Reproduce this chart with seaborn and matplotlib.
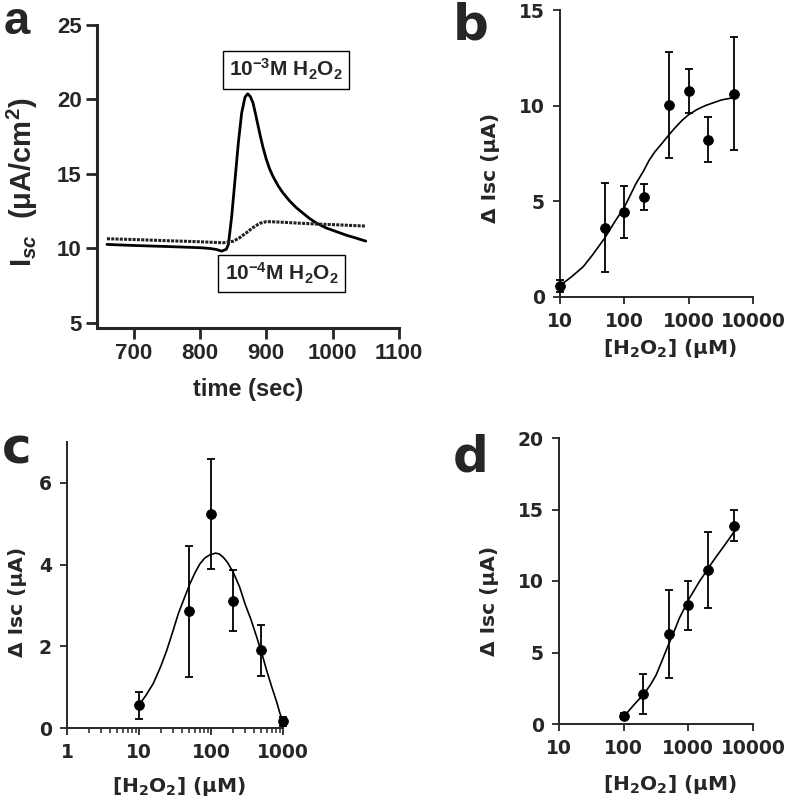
import numpy as np
import pandas as pd
import matplotlib
matplotlib.use("Agg")
import matplotlib.pyplot as plt
import seaborn as sns

# panel a: short-circuit current traces
t_1e3 = [660, 700, 750, 800, 815, 825, 833, 840, 843, 848, 853, 858, 863, 868, 872,
         876, 880, 884, 890, 895, 900, 905, 910, 918, 925, 935, 945, 955, 965, 975,
         990, 1005, 1020, 1035, 1050]
isc_1e3 = [10.27, 10.2, 10.13, 10.05, 10.0, 9.93, 9.82, 9.95, 10.27, 12.17, 14.63, 17.1,
           19.1, 20.15, 20.38, 20.2, 19.78, 19.0, 17.76, 16.8, 16.0, 15.35, 14.85, 14.2,
           13.74, 13.2, 12.75, 12.38, 12.02, 11.72, 11.38, 11.14, 10.9, 10.7, 10.49]
t_1e4 = [660, 700, 750, 800, 835, 850, 860, 870, 880, 890, 900, 915, 940, 970, 1000, 1050]
isc_1e4 = [10.65, 10.6, 10.52, 10.45, 10.38, 10.48, 10.72, 11.05, 11.4, 11.68, 11.8,
           11.78, 11.72, 11.65, 11.6, 11.5]

# panel b
b_conc = [10, 50, 100, 200, 500, 1000, 2000, 5000]
b_mean = [0.57, 3.62, 4.43, 5.23, 10.03, 10.77, 8.22, 10.63]
b_err = [0.3, 2.33, 1.36, 0.7, 2.79, 1.15, 1.17, 2.94]
b_fit_x = [10, 15, 22.9, 32, 49, 70, 100, 125, 151, 200, 242, 300, 389, 500, 624, 800,
           1000, 1350, 1807, 2500, 3250, 5200]
b_fit_y = [0.6, 1.05, 1.58, 2.2, 3.06, 3.9, 4.7, 5.35, 5.92, 6.6, 7.14, 7.6, 8.05, 8.5,
           8.87, 9.25, 9.53, 9.8, 10.0, 10.17, 10.3, 10.43]

# panel c
c_conc = [10, 50, 100, 200, 500, 1000]
c_mean = [0.56, 2.86, 5.24, 3.12, 1.90, 0.16]
c_err = [0.33, 1.6, 1.34, 0.75, 0.63, 0.1]
c_fit_x = [10, 12.5, 15.8, 20, 24.3, 29, 35.2, 42, 51, 60, 70.3, 82, 96.8, 116, 130, 148,
           170, 204, 250, 297, 360, 431, 510, 593, 700, 817, 900, 1000]
c_fit_y = [0.56, 0.8, 1.09, 1.5, 1.90, 2.32, 2.80, 3.15, 3.53, 3.8, 4.02, 4.16, 4.24, 4.28,
           4.26, 4.18, 4.05, 3.81, 3.45, 3.04, 2.65, 2.23, 1.82, 1.41, 1.0, 0.64, 0.38, 0.15]

# panel d
d_conc = [100, 200, 500, 1000, 2000, 5000]
d_mean = [0.56, 2.1, 6.27, 8.3, 10.77, 13.87]
d_err = [0.2, 1.43, 3.08, 1.7, 2.69, 1.1]
d_fit_x = [100, 139, 210, 260, 318, 390, 479, 600, 725, 870, 1035, 1250, 1476, 1750, 2100,
           2700, 3360, 4200, 5100]
d_fit_y = [0.51, 1.26, 2.15, 2.75, 3.43, 4.4, 5.41, 6.45, 7.39, 8.1, 8.79, 9.4, 9.95,
           10.45, 11.0, 11.7, 12.29, 12.9, 13.45]

sns.set_style("ticks")
plt.rcParams["font.family"] = ["DejaVu Sans"]
plt.rcParams["font.weight"] = "bold"
plt.rcParams["mathtext.default"] = "bf"
plt.rcParams["mathtext.fontset"] = "custom"
plt.rcParams["mathtext.rm"] = "Liberation Sans:bold"
plt.rcParams["mathtext.bf"] = "Liberation Sans:bold"
plt.rcParams["mathtext.it"] = "Liberation Sans:bold:italic"

ARIAL = "Liberation Sans"

fig = plt.figure(figsize=(7.88, 8.0), dpi=100)

# ---------------- panel a ----------------
ax = fig.add_axes([0.1231, 0.59, 0.3832, 0.3788])
sns.lineplot(x=t_1e3, y=isc_1e3, ax=ax, color="black", lw=2.0, sort=False, estimator=None)
sns.lineplot(x=t_1e4, y=isc_1e4, ax=ax, color="#222222", lw=2.2, sort=False,
             estimator=None, linestyle=(0, (1, 0.4)))
ax.set_xlim(645, 1100)
ax.set_ylim(4.66, 25)
ax.set_xticks([700, 800, 900, 1000, 1100])
ax.set_yticks([5, 10, 15, 20, 25])
for lab in ax.get_xticklabels() + ax.get_yticklabels():
    lab.set_fontfamily(ARIAL)
    lab.set_fontweight("bold")
    lab.set_fontsize(16)
ax.tick_params(width=2, length=8, pad=3)
for side in ["left", "bottom"]:
    ax.spines[side].set_linewidth(2.2)
sns.despine(ax=ax)
ax.set_xlabel("time (sec)", family=ARIAL, fontweight="bold", fontsize=17, labelpad=10)
ax.set_ylabel(r"I$_{\mathit{sc}}$  (μA/cm$^{2}$)", family=ARIAL, fontweight="bold",
              fontsize=21, math_fontfamily="custom")
ax.yaxis.set_label_coords(-0.19, 0.48)
box = dict(boxstyle="square,pad=0.3", fc="white", ec="black", lw=1)
ax.text(930, 22.0, r"10$^{-3}$M H$_{2}$O$_{2}$", ha="center", va="center",
        family=ARIAL, fontweight="bold", fontsize=15, bbox=box, math_fontfamily="custom")
ax.text(923, 8.32, r"10$^{-4}$M H$_{2}$O$_{2}$", ha="center", va="center",
        family=ARIAL, fontweight="bold", fontsize=15, bbox=box, math_fontfamily="custom")


def dose_panel(rect, conc, mean, err, fit_x, fit_y, xlim, ylim, xticks, xticklabels, yticks):
    ax = fig.add_axes(rect)
    ax.set_xscale("log")
    sns.lineplot(x=fit_x, y=fit_y, ax=ax, color="black", lw=1.2, sort=False, estimator=None)
    ax.errorbar(conc, mean, yerr=err, fmt="none", ecolor="black", elinewidth=1.3,
                capsize=2.8, capthick=1.3, clip_on=False, zorder=3)
    sns.scatterplot(x=conc, y=mean, ax=ax, color="black", s=50, edgecolor="black",
                    zorder=4, clip_on=False)
    ax.set_xlim(*xlim)
    ax.set_ylim(*ylim)
    ax.set_xticks(xticks)
    ax.set_xticklabels(xticklabels)
    ax.set_yticks(yticks)
    ax.set_yticklabels([str(v) for v in yticks])
    ax.tick_params(which="major", width=1.3, length=5, labelsize=13.5, pad=6)
    ax.tick_params(which="minor", width=1.1, length=3.5)
    for side in ["left", "bottom"]:
        ax.spines[side].set_linewidth(1.4)
    sns.despine(ax=ax)
    ax.set_xlabel(r"[H$_{2}$O$_{2}$] (μM)", fontsize=14.5, fontweight="bold",
                  math_fontfamily="dejavusans")
    ax.set_ylabel("Δ Isc (μA)", fontsize=14.5, fontweight="bold")
    return ax


ax_b = dose_panel([0.7107, 0.62875, 0.2449, 0.35875], b_conc, b_mean, b_err, b_fit_x, b_fit_y,
                  (10, 10000), (0, 15), [10, 100, 1000, 10000],
                  ["10", "100", "1000", "10000"], [0, 5, 10, 15])
ax_b.yaxis.set_label_coords(-0.31, 0.45)
ax_b.xaxis.set_label_coords(0.57, -0.14)

ax_c = dose_panel([0.085, 0.09, 0.2741, 0.3575], c_conc, c_mean, c_err, c_fit_x, c_fit_y,
                  (1, 1000), (0, 7), [1, 10, 100, 1000],
                  ["1", "10", "100", "1000"], [0, 2, 4, 6])
ax_c.yaxis.set_label_coords(-0.185, 0.44)
ax_c.xaxis.set_label_coords(0.52, -0.165)

ax_d = dose_panel([0.7094, 0.095, 0.2462, 0.3575], d_conc, d_mean, d_err, d_fit_x, d_fit_y,
                  (10, 10000), (0, 20), [10, 100, 1000, 10000],
                  ["10", "100", "1000", "10000"], [0, 5, 10, 15, 20])
ax_d.yaxis.set_label_coords(-0.31, 0.43)
ax_d.xaxis.set_label_coords(0.57, -0.17)

# panel letters
fig.text(0.004, 0.958, "a", family=ARIAL, fontweight="bold", fontsize=34)
fig.text(0.574, 0.95, "b", fontweight="bold", fontsize=36)
fig.text(0.003, 0.42125, "c", fontweight="bold", fontsize=36)
fig.text(0.575, 0.41, "d", fontweight="bold", fontsize=36)

fig.savefig("out.png", dpi=100)
